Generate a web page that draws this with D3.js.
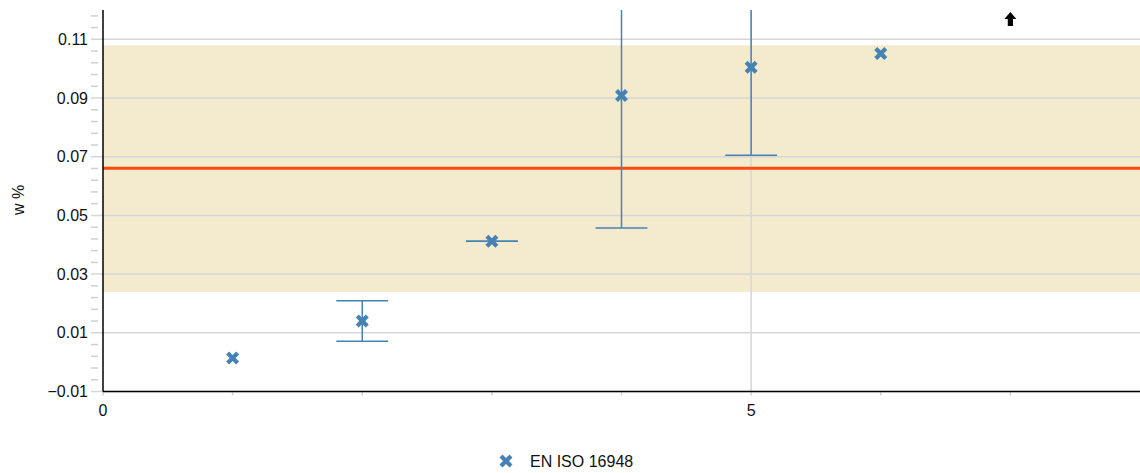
<!DOCTYPE html>
<html><head><meta charset="utf-8">
<script src="https://cdn.jsdelivr.net/npm/d3@7"></script>
<style>body{margin:0;background:#fff;font-family:"Liberation Sans",Arial,sans-serif;}</style>
</head><body><svg id="c" width="1140" height="473"></svg>
<script>
// data
const xs = [1, 2, 3, 4, 5, 6, 7];
const values = [0.0014, 0.014, 0.0412, 0.0909, 0.1005, 0.1052, 0.15];
const errors = [null, 0.0069, 0.0, 0.0452, 0.030, null, null];
const meanValue = 0.0661;
const bandLow = 0.0239, bandHigh = 0.108;
const yTicks = [-0.01, 0.01, 0.03, 0.05, 0.07, 0.09, 0.11];
const xTickLabels = [0, 5];
const seriesName = "EN ISO 16948";
const yLabel = "w %";

const svg = d3.select("#c");
const L = 103, R = 1140, T = 10, B = 391.5;
const x = d3.scaleLinear().domain([0, 8]).range([L, R]);
const y = d3.scaleLinear().domain([-0.01, 0.12]).range([B, T]);
const blue = "#4682b4";

svg.append("defs").append("clipPath").attr("id", "clip")
  .append("rect").attr("x", L).attr("y", T).attr("width", R - L).attr("height", B - T);

// band
svg.append("rect").attr("x", L).attr("width", R - L)
  .attr("y", y(bandHigh)).attr("height", y(bandLow) - y(bandHigh)).attr("fill", "#f4ebcf");

// gridlines
svg.append("g").selectAll("line").data(yTicks).join("line")
  .attr("x1", 91).attr("x2", R).attr("y1", d => y(d)).attr("y2", d => y(d))
  .attr("stroke", "#d6d6d6").attr("stroke-width", 1.5);
svg.append("line").attr("x1", x(5)).attr("x2", x(5)).attr("y1", T).attr("y2", B)
  .attr("stroke", "#d6d6d6").attr("stroke-width", 1.5);

// minor ticks
const minor = d3.range(-0.01, 0.1201, 0.004).filter(v => !yTicks.some(t => Math.abs(t - v) < 1e-6));
svg.append("g").selectAll("line").data(minor).join("line")
  .attr("x1", 91).attr("x2", 98).attr("y1", d => y(d)).attr("y2", d => y(d))
  .attr("stroke", "#d0d0d0").attr("stroke-width", 1.5);

// x ticks
svg.append("g").selectAll("line").data(d3.range(0, 8)).join("line")
  .attr("x1", d => x(d)).attr("x2", d => x(d)).attr("y1", B).attr("y2", B + 4)
  .attr("stroke", "#d0d0d0").attr("stroke-width", 1.5);

// mean line
svg.append("line").attr("x1", L).attr("x2", R).attr("y1", y(meanValue)).attr("y2", y(meanValue))
  .attr("stroke", "#ff4a0f").attr("stroke-width", 3);

// axes lines
svg.append("line").attr("x1", L).attr("x2", L).attr("y1", T).attr("y2", B).attr("stroke", "#000").attr("stroke-width", 1.5);
svg.append("line").attr("x1", L).attr("x2", R).attr("y1", B).attr("y2", B).attr("stroke", "#000").attr("stroke-width", 1.5);

// y tick labels
svg.append("g").selectAll("text").data(yTicks).join("text")
  .attr("x", 88).attr("y", d => y(d) + 5.5).attr("text-anchor", "end")
  .attr("font-size", 16).attr("fill", "#111").text(d => d3.format(".2f")(d));
// x tick labels
svg.append("g").selectAll("text").data(xTickLabels).join("text")
  .attr("x", d => x(d)).attr("y", 416).attr("text-anchor", "middle")
  .attr("font-size", 16).attr("fill", "#111").text(d => d);

// y label
svg.append("text").attr("transform", "translate(24,200) rotate(-90)")
  .attr("text-anchor", "middle").attr("font-size", 16).attr("fill", "#111").text(yLabel);

// error bars
const pts = xs.map((xv, i) => ({x: xv, v: values[i], e: errors[i]}));
const eg = svg.append("g").attr("clip-path", "url(#clip)");
const capW = 0.2;
pts.filter(d => d.e !== null && d.v <= 0.12).forEach(d => {
  const lo = d.v - d.e, hi = d.v + d.e;
  eg.append("line").attr("x1", x(d.x)).attr("x2", x(d.x)).attr("y1", y(lo)).attr("y2", y(hi))
    .attr("stroke", blue).attr("stroke-width", 1.5);
  [lo, hi].forEach(b => eg.append("line").attr("x1", x(d.x - capW)).attr("x2", x(d.x + capW))
    .attr("y1", y(b)).attr("y2", y(b)).attr("stroke", blue).attr("stroke-width", 1.5));
});

// markers
const cross = "M-6.5,-3.5 L-3.5,-6.5 L0,-3 L3.5,-6.5 L6.5,-3.5 L3,0 L6.5,3.5 L3.5,6.5 L0,3 L-3.5,6.5 L-6.5,3.5 L-3,0 Z";
svg.append("g").selectAll("path").data(pts.filter(d => d.v <= 0.12)).join("path")
  .attr("d", cross).attr("transform", d => `translate(${x(d.x)},${y(d.v)})`).attr("fill", blue);

// off-scale arrows
const arrow = "M0,-7 L6,0 L2.6,0 L2.6,7 L-2.6,7 L-2.6,0 L-6,0 Z";
svg.append("g").selectAll("path").data(pts.filter(d => d.v > 0.12)).join("path")
  .attr("d", arrow).attr("transform", d => `translate(${x(d.x)},${T + 9})`).attr("fill", "#000");

// legend
svg.append("path").attr("d", cross).attr("transform", "translate(506,461)").attr("fill", blue);
svg.append("text").attr("x", 530).attr("y", 467).attr("font-size", 16).attr("fill", "#111").text(seriesName);
</script></body></html>
